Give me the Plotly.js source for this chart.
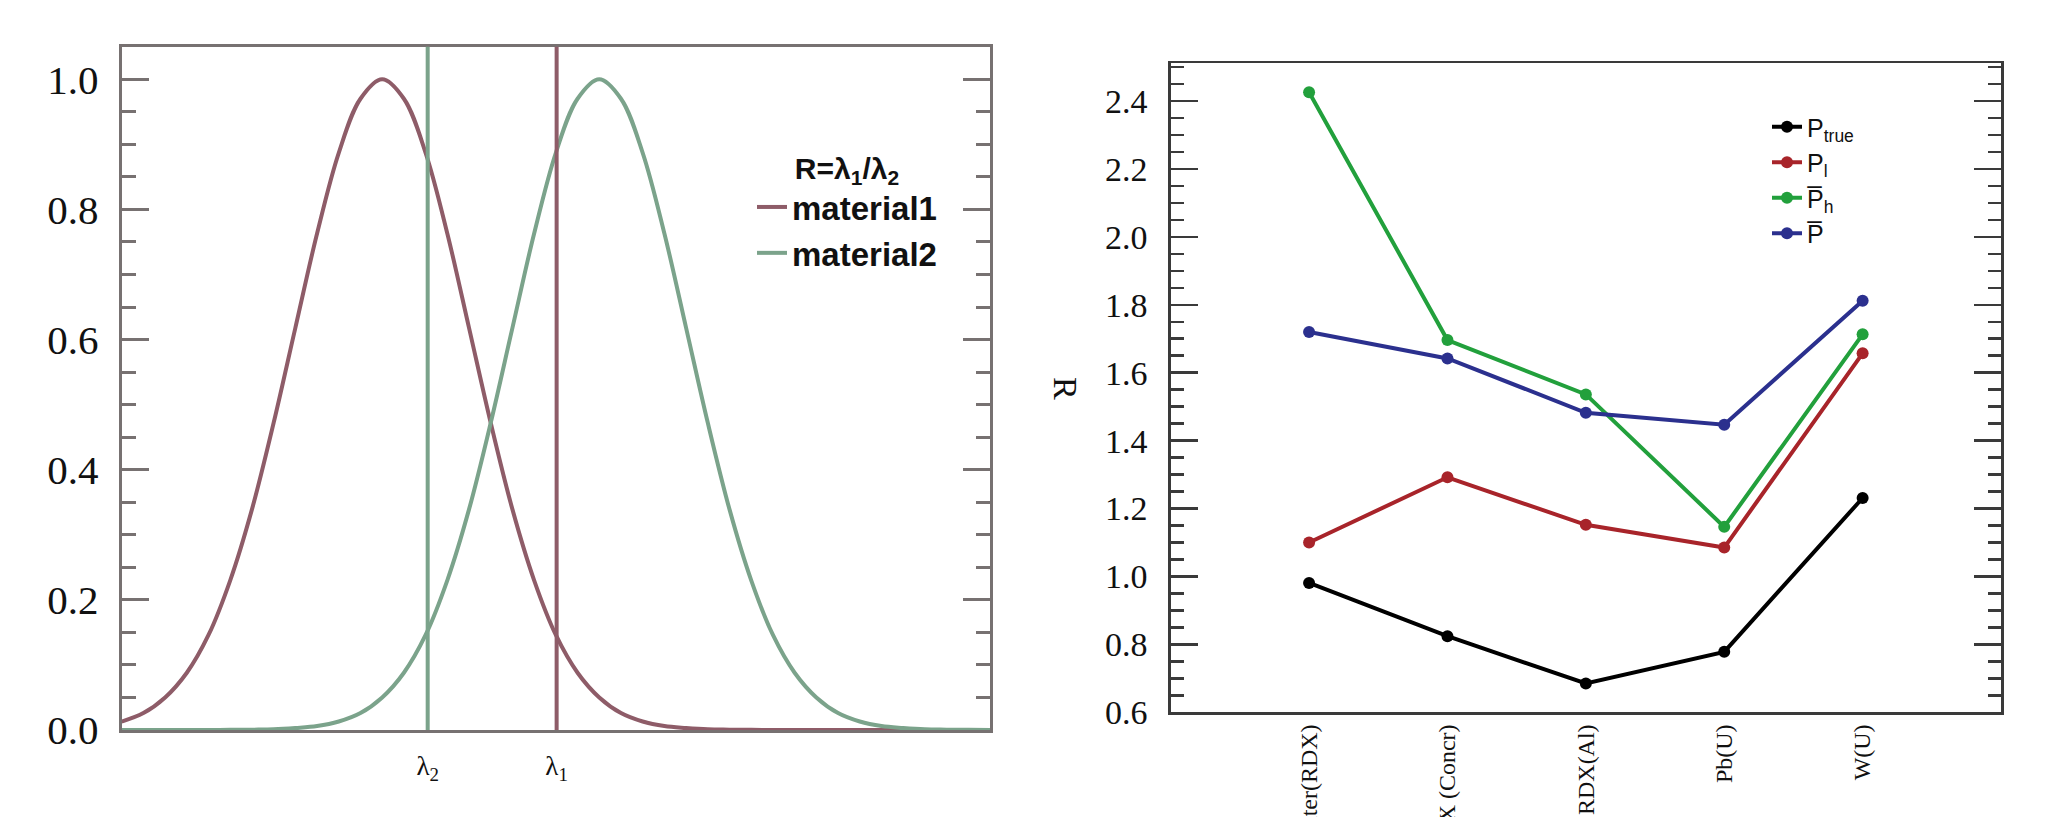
<!DOCTYPE html>
<html>
<head>
<meta charset="utf-8">
<script src="https://cdn.plot.ly/plotly-3.0.1.min.js"></script>
<style>
  html, body { margin: 0; padding: 0; background: #ffffff; }
  #chart { width: 2062px; height: 817px; }
</style>
</head>
<body>
<div id="chart"></div>
<script>
// ---------- Left panel data ----------
const waveX = [0, 2.5, 5, 7.5, 10, 12.5, 15, 17.5, 20, 22.5, 25, 27.5, 30, 32.5, 35, 37.5, 40, 42.5, 45, 47.5, 50,
               52.5, 55, 57.5, 60, 62.5, 65, 67.5, 70, 72.5, 75, 77.5, 80, 82.5, 85, 87.5, 90, 92.5, 95, 97.5, 100];
const material1 = [0.013, 0.026, 0.050, 0.088, 0.146, 0.230, 0.339, 0.472, 0.618, 0.763, 0.887, 0.970, 1.000, 0.970, 0.887, 0.763, 0.618, 0.472, 0.339, 0.230, 0.146,
                   0.088, 0.050, 0.026, 0.013, 0.006, 0.003, 0.001, 0.0005, 0.0002, 0.0001, 0, 0, 0, 0, 0, 0, 0, 0, 0, 0];
const material2 = [0, 0, 0, 0, 0.0001, 0.0002, 0.0005, 0.001, 0.003, 0.006, 0.013, 0.026, 0.050, 0.088, 0.146, 0.230, 0.339, 0.472, 0.618, 0.763, 0.887,
                   0.970, 1.000, 0.970, 0.887, 0.763, 0.618, 0.472, 0.339, 0.230, 0.146, 0.088, 0.050, 0.026, 0.013, 0.006, 0.003, 0.001, 0.0005, 0.0002, 0.0001];
const lambdaPos = [35.24, 50.09];
const lambdaLabels = ['λ<sub>2</sub>', 'λ<sub>1</sub>'];
const lambdaColors = ['#7ba38b', '#8e5c68'];

// ---------- Right panel data ----------
const categories = ['Water(RDX)', 'RDX (Concr)', 'RDX(Al)', 'Pb(U)', 'W(U)'];
const catIndex = [0, 1, 2, 3, 4];
const Ptrue = [0.981, 0.824, 0.685, 0.778, 1.231];
const Pl    = [1.100, 1.292, 1.152, 1.085, 1.657];
const Ph    = [2.426, 1.696, 1.536, 1.146, 1.713];
const Pbar  = [1.720, 1.642, 1.482, 1.447, 1.812];
const seriesNames = ['P<sub>true</sub>', 'P<sub>l</sub>', 'P\u0305<sub>h</sub>', 'P\u0305'];
const seriesColors = ['#000000', '#a8242a', '#22a03c', '#2b308e'];
const yTitle = 'R';

const serif = 'Liberation Serif, Times New Roman, serif';
const sans = 'Liberation Sans, Arial, sans-serif';

const traces = [
  { x: waveX, y: material1, name: 'material1', type: 'scatter', mode: 'lines',
    line: { color: '#8e5c68', width: 4, shape: 'spline' }, xaxis: 'x', yaxis: 'y', legend: 'legend' },
  { x: waveX, y: material2, name: 'material2', type: 'scatter', mode: 'lines',
    line: { color: '#7ba38b', width: 4, shape: 'spline' }, xaxis: 'x', yaxis: 'y', legend: 'legend' }
];
[Ptrue, Pl, Ph, Pbar].forEach((vals, i) => {
  traces.push({ x: catIndex, y: vals, name: seriesNames[i], type: 'scatter', mode: 'lines+markers',
    line: { color: seriesColors[i], width: 4 }, marker: { color: seriesColors[i], size: 12 },
    xaxis: 'x2', yaxis: 'y2', legend: 'legend2' });
});

const W = 2062, H = 817;
const shapes = lambdaPos.map((p, i) => ({
  type: 'line', xref: 'x', yref: 'y domain', x0: p, x1: p, y0: 0, y1: 1,
  line: { color: lambdaColors[i], width: 4 }, layer: 'above'
}));

const leftFrame = '#777171';
const rightFrame = '#3a3a3a';

const layout = {
  width: W, height: H,
  margin: { l: 0, r: 0, t: 0, b: 0 },
  paper_bgcolor: '#ffffff', plot_bgcolor: '#ffffff',
  showlegend: true,
  xaxis: {
    domain: [121.7 / W, 990 / W], range: [0, 100],
    showline: true, mirror: true, linecolor: leftFrame, linewidth: 3,
    showgrid: false, zeroline: false, ticks: '',
    tickmode: 'array', tickvals: lambdaPos, ticktext: lambdaLabels,
    tickfont: { family: serif, size: 27, color: '#111' }, ticklabelstandoff: 10
  },
  yaxis: {
    domain: [1 - 730 / H, 1 - 46.7 / H], range: [0, 1.05],
    showline: true, mirror: 'ticks', linecolor: leftFrame, linewidth: 3,
    showgrid: false, zeroline: false,
    ticks: 'inside', ticklen: 27, tickwidth: 3, tickcolor: leftFrame, dtick: 0.2, tick0: 0,
    tickformat: '.1f',
    minor: { ticks: 'inside', ticklen: 14, tickwidth: 3, tickcolor: leftFrame, dtick: 0.05, showgrid: false },
    tickfont: { family: serif, size: 41, color: '#111' }, ticklabelstandoff: 12
  },
  xaxis2: {
    domain: [1170.7 / W, 2001 / W], range: [-1, 5], anchor: 'y2',
    showline: true, mirror: true, linecolor: rightFrame, linewidth: 2.5,
    showgrid: false, zeroline: false, ticks: '',
    tickmode: 'array', tickvals: catIndex, ticktext: categories, tickangle: -90,
    tickfont: { family: serif, size: 24, color: '#111' }, ticklabelstandoff: 0
  },
  yaxis2: {
    domain: [1 - 712.3 / H, 1 - 63.3 / H], range: [0.6, 2.511], anchor: 'x2',
    showline: true, mirror: 'ticks', linecolor: rightFrame, linewidth: 2.5,
    showgrid: false, zeroline: false,
    ticks: 'inside', ticklen: 27, tickwidth: 2.5, tickcolor: rightFrame, dtick: 0.2, tick0: 0.6,
    tickformat: '.1f',
    minor: { ticks: 'inside', ticklen: 13, tickwidth: 2.5, tickcolor: rightFrame, dtick: 0.05, showgrid: false },
    tickfont: { family: serif, size: 34, color: '#111' }, ticklabelstandoff: 14
  },
  annotations: [{
    text: yTitle, xref: 'paper', yref: 'paper', x: 1066 / W, y: 1 - 388 / H,
    xanchor: 'center', yanchor: 'middle', showarrow: false, textangle: 90,
    font: { family: serif, size: 34, color: '#111' }
  }],
  legend: {
    x: 752 / W, y: 1 - 140 / H, xanchor: 'left', yanchor: 'top',
    bgcolor: 'rgba(0,0,0,0)', borderwidth: 0,
    font: { family: sans, size: 33, color: '#111', weight: 'bold' },
    title: { text: '<b>R=λ<sub>1</sub>/λ<sub>2</sub></b>', side: 'top center', font: { family: sans, size: 30, color: '#111' } }
  },
  legend2: {
    x: 1767 / W, y: 1 - 104 / H, xanchor: 'left', yanchor: 'top',
    bgcolor: 'rgba(0,0,0,0)', borderwidth: 0,
    font: { family: sans, size: 25, color: '#111' }
  },
  shapes: shapes
};

Plotly.newPlot('chart', traces, layout, { displayModeBar: false, staticPlot: true });
</script>
</body>
</html>
